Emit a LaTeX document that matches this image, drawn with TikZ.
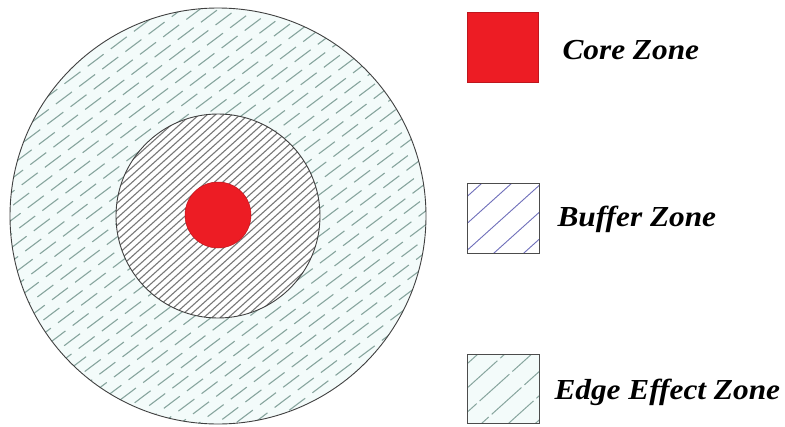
\documentclass[tikz,border=0pt]{standalone}
\usepackage{fontspec}
\setmainfont{Liberation Serif}[FakeStretch=1.08]
\definecolor{corered}{RGB}{237,28,36}
\definecolor{edgefill}{RGB}{243,251,250}
\definecolor{edgeink}{RGB}{135,165,158}
\definecolor{bufink}{RGB}{120,120,120}
\definecolor{keyink}{RGB}{110,110,185}
\tikzset{
  rim/.style={draw=black!75,line width=0.9pt},
  edgehatch/.style={edgeink,line width=1.1pt,dash pattern=on 20pt off 9pt},
  bufhatch/.style={bufink,line width=1.1pt},
  keytext/.style={anchor=base west,font=\fontsize{29}{32}\selectfont\bfseries\itshape}
}
\begin{document}
\begin{tikzpicture}[x=1pt,y=-1pt]
\useasboundingbox (0,0) rectangle (785,426);
% edge effect zone
\fill[edgefill] (218,216) circle (208);
\begin{scope}
\clip (218,216) circle (208);
\foreach \s [evaluate=\s as \ph using {mod(\s*7+300,29)}] in {-220,-209,...,220}
  \draw[edgehatch,dash phase=\ph pt,shift={(218,216)},rotate=37] (-230,\s) -- (230,\s);
\end{scope}
% buffer zone
\fill[white] (218,216) circle (102);
\begin{scope}
\clip (218,216) circle (102);
\foreach \s in {-110,-104.5,...,110}
  \draw[bufhatch,shift={(218,216)},rotate=42] (-120,\s) -- (120,\s);
\end{scope}
\draw[rim] (218,216) circle (208);
\draw[rim] (218,216) circle (102);
% core zone
\filldraw[fill=corered,draw=corered!80!black,line width=0.5pt] (218,215) circle (33);
% legend
\filldraw[fill=corered,draw=corered!80!black,line width=0.6pt] (467,12) rectangle (538,82);
\node[keytext] (coreLbl) at (559,59) {Core Zone};
\begin{scope}
\clip (467,183) rectangle (539,253);
\foreach \s in {-60,-40,...,60}
  \draw[keyink,line width=0.9pt,shift={(503,218)},rotate=42] (-70,\s) -- (70,\s);
\end{scope}
\draw[black!70,line width=0.8pt] (467,183) rectangle (539,253);
\node[keytext] (bufLbl) at (554,226) {Buffer Zone};
\fill[edgefill] (467,354) rectangle (539,423);
\begin{scope}
\clip (467,354) rectangle (539,423);
\foreach \s in {-60,-42,...,60}
  \draw[edgeink,line width=1pt,dash pattern=on 40pt off 4pt,shift={(503,388)},rotate=42] (-70,\s) -- (70,\s);
\end{scope}
\draw[black!70,line width=0.8pt] (467,354) rectangle (539,423);
\node[keytext] (edgeLbl) at (551,399) {Edge Effect Zone};
\end{tikzpicture}
\end{document}
